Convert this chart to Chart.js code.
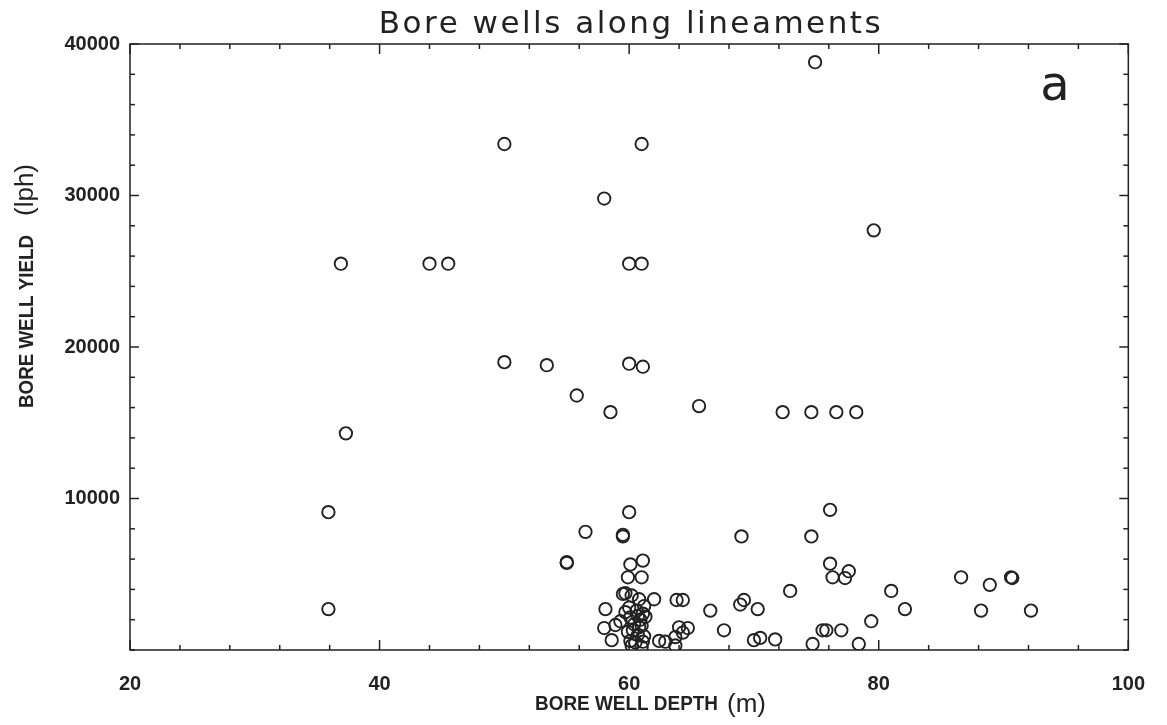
<!DOCTYPE html>
<html>
<head>
<meta charset="utf-8">
<title>Bore wells along lineaments</title>
<script src="https://cdn.jsdelivr.net/npm/chart.js@4.4.0/dist/chart.umd.min.js"></script>
<style>
  html, body { margin: 0; padding: 0; background: #fff; }
</style>
</head>
<body>
<canvas id="myChart" width="1167" height="725"></canvas>
<script>
// bore well depth (m) and yield (lph), one entry per well
var depthM = [
  74.9, 50.0, 61.0, 58.0, 79.6, 36.9, 44.0, 45.5, 60.0, 61.0,
  50.0, 53.4, 60.0, 61.1, 55.8, 58.5, 65.6, 72.3, 74.6, 76.6,
  78.2, 37.3, 35.9, 35.9, 60.0, 76.1, 56.5, 59.5, 59.5, 69.0,
  74.6, 55.0, 55.0, 60.1, 61.1, 76.1, 77.6, 76.3, 77.3, 59.9,
  61.0, 86.6, 88.9, 90.6, 90.7, 72.9, 81.0, 59.5, 59.7, 60.2,
  60.8, 62.0, 63.8, 64.3, 69.2, 68.9, 70.3, 66.5, 58.1, 82.1,
  88.2, 92.2, 79.4, 58.0, 58.9, 59.3, 58.6, 60.1, 60.7, 60.1,
  61.1, 62.4, 62.9, 64.0, 64.7, 63.7, 64.3, 63.7, 67.6, 70.0,
  70.5, 71.7, 74.7, 75.5, 75.8, 77.0, 78.4, 60.0, 60.6, 61.1,
  59.9, 60.4, 61.0, 60.7, 61.2, 60.2, 61.0, 59.7, 60.9, 61.2,
  60.3, 60.8, 60.5, 61.3
];
var yieldLph = [
  38800, 33400, 33400, 29800, 27700, 25500, 25500, 25500, 25500, 25500,
  19000, 18800, 18900, 18700, 16800, 15700, 16100, 15700, 15700, 15700,
  15700, 14300, 9100, 2700, 9100, 9250, 7800, 7600, 7500, 7500,
  7500, 5800, 5750, 5650, 5900, 5700, 5200, 4800, 4750, 4800,
  4800, 4800, 4300, 4800, 4750, 3900, 3900, 3700, 3750, 3600,
  3350, 3350, 3300, 3300, 3300, 3000, 2700, 2600, 2700, 2700,
  2600, 2600, 1900, 1450, 1650, 1900, 650, 2150, 2250, 600,
  550, 600, 550, 1500, 1450, 850, 1150, 300, 1300, 650,
  800, 700, 400, 1300, 1300, 1300, 400, 2800, 2600, 2400,
  1200, 1700, 1600, 1000, 900, 300, 200, 2500, 2000, 2900,
  1300, 1500, 500, 2200
];

// labelled ticks; the rest are unlabelled minor ticks
var xLabels = [20, 40, 60, 80, 100];
var yLabels = [10000, 20000, 30000, 40000];

var ink = '#222';

function line(ctx, x1, y1, x2, y2) {
  ctx.beginPath();
  ctx.moveTo(x1, y1);
  ctx.lineTo(x2, y2);
  ctx.stroke();
}

// frame, inward ticks on all sides, title and axis titles
var framePlugin = {
  id: 'frame',
  afterDraw: function(chart) {
    var ctx = chart.ctx, a = chart.chartArea;
    var xs = chart.scales.x, ys = chart.scales.y;
    ctx.save();
    ctx.strokeStyle = ink;
    ctx.lineWidth = 1.5;
    ctx.strokeRect(a.left, a.top, a.right - a.left, a.bottom - a.top);

    xs.ticks.forEach(function(t) {
      var px = xs.getPixelForValue(t.value);
      var len = xLabels.indexOf(t.value) >= 0 ? 10 : 5;
      line(ctx, px, a.bottom, px, a.bottom - len);
      line(ctx, px, a.top, px, a.top + len);
    });
    ys.ticks.forEach(function(t) {
      var py = ys.getPixelForValue(t.value);
      var len = yLabels.indexOf(t.value) >= 0 ? 9 : 5;
      line(ctx, a.left, py, a.left + len, py);
      line(ctx, a.right, py, a.right - len, py);
    });

    ctx.fillStyle = ink;
    ctx.textBaseline = 'alphabetic';

    // title
    ctx.font = '31px "DejaVu Sans"';
    ctx.letterSpacing = '2.5px';
    ctx.textAlign = 'center';
    ctx.fillText('Bore wells along lineaments', 631, 33);
    ctx.letterSpacing = '0px';

    // panel letter
    ctx.font = '48px "DejaVu Sans"';
    ctx.fillText('a', 1055, 100);

    // x axis title
    ctx.textAlign = 'left';
    ctx.font = 'bold 20px "Liberation Sans"';
    ctx.fillText('BORE WELL DEPTH', 535, 710, 183);
    ctx.font = '26px "Liberation Sans"';
    ctx.fillText('(m)', 727, 712);

    // y axis title, rotated
    ctx.translate(33, 408);
    ctx.rotate(-Math.PI / 2);
    ctx.font = 'bold 20px "Liberation Sans"';
    ctx.fillText('BORE WELL YIELD', 0, 0, 173);
    ctx.font = '26px "Liberation Sans"';
    ctx.fillText('(lph)', 192, 0);
    ctx.restore();
  }
};

function drawScatter() {
  var points = [];
  for (var i = 0; i < depthM.length; i++) {
    points.push({ x: depthM[i], y: yieldLph[i] });
  }

  var ctx = document.getElementById('myChart').getContext('2d');
  new Chart(ctx, {
    type: 'scatter',
    data: {
      datasets: [{
        data: points,
        pointStyle: 'circle',
        pointRadius: 6.2,
        pointBorderWidth: 1.9,
        borderColor: ink,
        backgroundColor: 'rgba(0,0,0,0)'
      }]
    },
    options: {
      responsive: false,
      animation: false,
      events: [],
      layout: { padding: { top: 44, right: 37, bottom: 0, left: 0 } },
      plugins: { legend: { display: false }, tooltip: { enabled: false } },
      scales: {
        x: {
          type: 'linear', min: 20, max: 100,
          grid: { display: false, drawTicks: false },
          border: { display: false },
          afterFit: function(s) { s.height = 75; },
          ticks: {
            stepSize: 4, autoSkip: false, maxRotation: 0, padding: 22,
            color: ink,
            font: { family: 'Liberation Sans', size: 20, weight: 'bold' },
            callback: function(v) { return xLabels.indexOf(v) >= 0 ? String(v) : ''; }
          }
        },
        y: {
          type: 'linear', min: 0, max: 40000,
          grid: { display: false, drawTicks: false },
          border: { display: false },
          afterFit: function(s) { s.width = 130; },
          ticks: {
            stepSize: 2000, autoSkip: false, padding: 10,
            color: ink,
            font: { family: 'Liberation Sans', size: 20, weight: 'bold' },
            callback: function(v) { return yLabels.indexOf(v) >= 0 ? String(v) : ''; }
          }
        }
      }
    },
    plugins: [framePlugin]
  });
}

drawScatter();
</script>
</body>
</html>
